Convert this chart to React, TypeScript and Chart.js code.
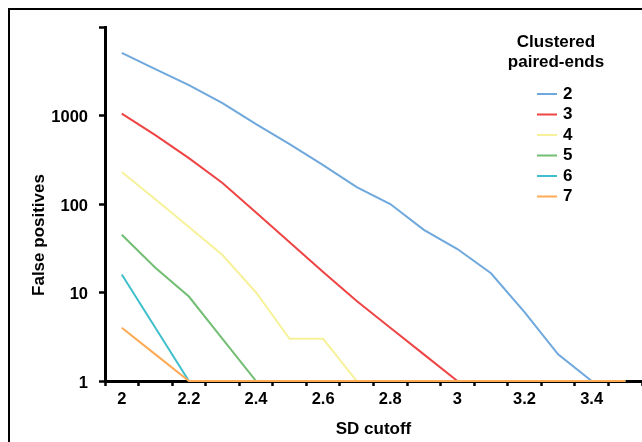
import React, { useEffect, useRef } from "react";
import { Chart, registerables } from "chart.js";

Chart.register(...registerables);

const categories = ["2", "2.1", "2.2", "2.3", "2.4", "2.5", "2.6", "2.7", "2.8", "2.9", "3", "3.1", "3.2", "3.3", "3.4", "3.5"];
const seriesNames = ["2", "3", "4", "5", "6", "7"];
const pe2 = [5100, 3350, 2200, 1380, 800, 475, 275, 155, 100, 51, 31, 16.5, 6, 2, 1, 1];
const pe3 = [1050, 600, 330, 173, 80, 37, 17, 8, 4, 2, 1, 1, 1, 1, 1, 1];
const pe4 = [230, 113, 55, 26.5, 10, 3, 3, 1, 1, 1, 1, 1, 1, 1, 1, 1];
const pe5 = [45, 19, 9, 3, 1, 1, 1, 1, 1, 1, 1, 1, 1, 1, 1, 1];
const pe6 = [16, 4, 1, 1, 1, 1, 1, 1, 1, 1, 1, 1, 1, 1, 1, 1];
const pe7 = [4, 2, 1, 1, 1, 1, 1, 1, 1, 1, 1, 1, 1, 1, 1, 1];
const yTicks = [1, 10, 100, 1000, 10000];
const legendTitle = ["Clustered", "paired-ends"];
const xTitle = "SD cutoff";
const yTitle = "False positives";

const colors = ["#6FA8DC", "#EE4444", "#F7F29A", "#72BE72", "#3FBFCB", "#FFAA55"];
const FONT = "'Liberation Sans', Arial, Helvetica, sans-serif";

export default function App() {
  const ref = useRef<HTMLCanvasElement | null>(null);

  useEffect(() => {
    const canvas = ref.current;
    if (!canvas) return;
    const all = [pe2, pe3, pe4, pe5, pe6, pe7];

    const frame = {
      id: "frame",
      beforeDraw(chart: any) {
        const ctx = chart.ctx;
        ctx.save();
        ctx.fillStyle = "#fff";
        ctx.fillRect(0, 0, chart.width, chart.height);
        ctx.fillStyle = "#000";
        ctx.fillRect(8, 8, 2, chart.height - 8);
        ctx.fillRect(8, 8, chart.width - 8, 2);
        ctx.restore();
      },
    };

    const overlay = {
      id: "overlay",
      afterDraw(chart: any) {
        const ctx = chart.ctx;
        const ca = chart.chartArea;
        ctx.save();
        ctx.fillStyle = "#000";
        ctx.font = `bold 17px ${FONT}`;
        ctx.textAlign = "center";
        ctx.textBaseline = "alphabetic";
        ctx.fillText(xTitle, (ca.left + ca.right) / 2, 434);
        ctx.save();
        ctx.translate(43.5, 235);
        ctx.rotate(-Math.PI / 2);
        ctx.fillText(yTitle, 0, 0);
        ctx.restore();
        ctx.fillText(legendTitle[0], 556, 46.7);
        ctx.fillText(legendTitle[1], 556, 67);
        ctx.textAlign = "left";
        ctx.textBaseline = "middle";
        chart.data.datasets.forEach((ds: any, i: number) => {
          const y = 94 + i * 20.5;
          ctx.strokeStyle = ds.borderColor;
          ctx.lineWidth = 2;
          ctx.beginPath();
          ctx.moveTo(537, y);
          ctx.lineTo(557, y);
          ctx.stroke();
          ctx.fillStyle = "#000";
          ctx.fillText(ds.label, 563, y);
        });
        ctx.restore();
      },
    };

    const chart = new Chart(canvas, {
      type: "line",
      data: {
        labels: categories,
        datasets: all.map((d, i) => ({
          label: seriesNames[i],
          data: d,
          borderColor: colors[i],
          backgroundColor: colors[i],
          borderWidth: 2,
          pointRadius: 0,
          tension: 0,
          fill: false,
          clip: false as any,
          order: all.length - i,
        })),
      },
      options: {
        responsive: false,
        animation: false,
        events: [],
        layout: { padding: { top: 27, left: 0, right: 0, bottom: 0 } },
        plugins: {
          legend: { display: false },
          tooltip: { enabled: false },
        },
        scales: {
          x: {
            type: "category",
            offset: true,
            grid: {
              offset: true,
              drawOnChartArea: false,
              drawTicks: true,
              tickLength: 5,
              tickWidth: 2.5,
              tickColor: "#000",
            },
            border: { display: true, color: "#000", width: 3 },
            ticks: {
              autoSkip: false,
              maxRotation: 0,
              minRotation: 0,
              padding: 4,
              color: "#000",
              font: { family: FONT, size: 16.5, weight: "bold" },
              callback: (_v: any, i: number) => (i % 2 === 0 ? categories[i] : ""),
            },
            afterFit: (s: any) => {
              s.height = 61;
            },
          },
          y: {
            type: "logarithmic",
            min: 1,
            max: 10000,
            grid: {
              drawOnChartArea: false,
              drawTicks: true,
              tickLength: 6,
              tickWidth: 2.5,
              tickColor: "#000",
            },
            border: { display: true, color: "#000", width: 3 },
            ticks: {
              padding: 11,
              labelOffset: 2,
              color: "#000",
              font: { family: FONT, size: 16.5, weight: "bold" },
              callback: (v: any) => (v === 10000 ? "" : String(v)),
            },
            afterBuildTicks: (s: any) => {
              s.ticks = yTicks.map((v) => ({ value: v }));
            },
            afterFit: (s: any) => {
              s.width = 105;
            },
          },
        },
      },
      plugins: [frame, overlay],
    } as any);

    return () => chart.destroy();
  }, []);

  return (
    <div style={{ position: "absolute", left: 0, top: 0, width: 642, height: 442, overflow: "hidden", background: "#fff" }}>
      <canvas ref={ref} width={642} height={442} style={{ position: "absolute", left: 0, top: 0, width: 642, height: 442 }} />
    </div>
  );
}
